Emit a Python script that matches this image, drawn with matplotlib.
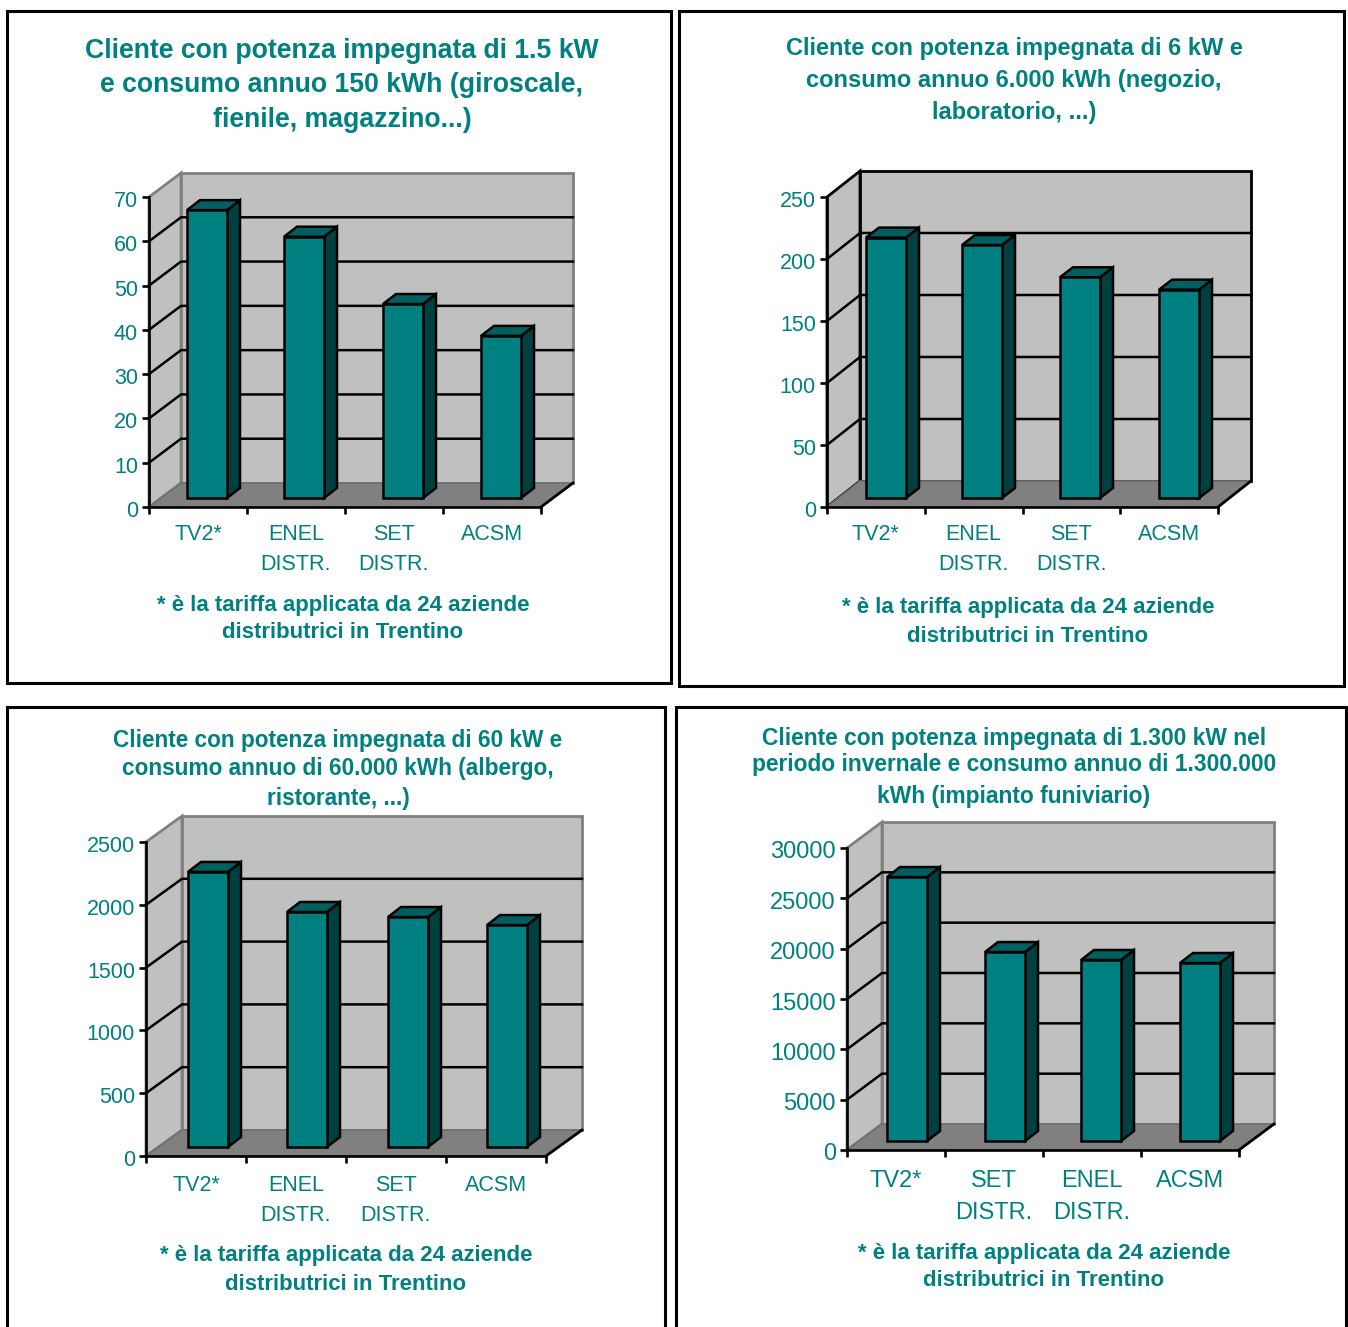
import matplotlib
matplotlib.use('Agg')
from matplotlib import pyplot as plt
from matplotlib.patches import Polygon, Rectangle
from matplotlib.transforms import ScaledTranslation

W, H = 1348, 1327
TEAL = '#008080'
plt.rcParams['font.family'] = ['Liberation Sans', 'DejaVu Sans']

# Values, one set per chart
cats_1 = ['TV2*', 'ENEL\nDISTR.', 'SET\nDISTR.', 'ACSM']
vals_1 = [65, 59, 43.8, 36.6]
ticks_1 = [0, 10, 20, 30, 40, 50, 60, 70]

cats_2 = ['TV2*', 'ENEL\nDISTR.', 'SET\nDISTR.', 'ACSM']
vals_2 = [210, 204, 178, 168]
ticks_2 = [0, 50, 100, 150, 200, 250]

cats_3 = ['TV2*', 'ENEL\nDISTR.', 'SET\nDISTR.', 'ACSM']
vals_3 = [2190, 1871, 1831, 1767]
ticks_3 = [0, 500, 1000, 1500, 2000, 2500]

cats_4 = ['TV2*', 'SET\nDISTR.', 'ENEL\nDISTR.', 'ACSM']
vals_4 = [26220, 18770, 17980, 17680]
ticks_4 = [0, 5000, 10000, 15000, 20000, 25000, 30000]

title_1 = ['Cliente con potenza impegnata di 1.5 kW',
           'e consumo annuo 150 kWh (giroscale,',
           'fienile, magazzino...)']
title_2 = ['Cliente con potenza impegnata di 6 kW e',
           'consumo annuo 6.000 kWh (negozio,',
           'laboratorio, ...)']
title_3 = ['Cliente con potenza impegnata di 60 kW e',
           'consumo annuo di 60.000 kWh (albergo,',
           'ristorante, ...)']
title_4 = ['Cliente con potenza impegnata di 1.300 kW nel',
           'periodo invernale e consumo annuo di 1.300.000',
           'kWh (impianto funiviario)']
note = ['* è la tariffa applicata da 24 aziende',
        'distributrici in Trentino']

fig = plt.figure(figsize=(W / 100, H / 100), dpi=100)


def text_px(x, y, s, size):
    fig.text(x / W, 1 - y / H, s, color=TEAL, fontsize=size, fontweight='bold',
             ha='center', va='center')


def frame(x0, y0, x1, y1):
    fig.add_artist(Rectangle((x0 / W, 1 - y1 / H), (x1 - x0) / W, (y1 - y0) / H,
                             transform=fig.transFigure, fill=False,
                             edgecolor='black', linewidth=2.2, clip_on=False))


def chart(box, depth, cats, vals, ticks, bar_lefts, wall_edge='#808080', size=15.5, pad=12, spacing=1.6):
    """One pseudo 3D bar chart. box is the front plane in pixels (x0, x1, ytop, ybottom)."""
    x0, x1, ytop, ybot = box
    ax = fig.add_axes([x0 / W, 1 - ybot / H, (x1 - x0) / W, (ybot - ytop) / H])
    ymax = ticks[-1]
    ax.set_xlim(0, 4)
    ax.set_ylim(0, ymax)
    ax.patch.set_visible(False)

    # pixel sizes turned into data units
    ux = 4 / (x1 - x0)
    uy = ymax / (ybot - ytop)
    dx, dy = depth[0] * ux, depth[1] * uy   # depth of the box
    bx, by = 13 * ux, 10 * uy               # depth of a bar
    sy = 9 * uy                             # how far bars sit behind the front plane
    bw = 40 * ux

    # walls and floor
    ax.add_patch(Polygon([(0, 0), (dx, dy), (dx, ymax + dy), (0, ymax)], fc='#c0c0c0',
                         ec=wall_edge, lw=2, clip_on=False, zorder=1))
    ax.add_patch(Polygon([(dx, dy), (4 + dx, dy), (4 + dx, ymax + dy), (dx, ymax + dy)], fc='#c0c0c0',
                         ec=wall_edge, lw=2, clip_on=False, zorder=1))
    ax.add_patch(Polygon([(0, 0), (4, 0), (4 + dx, dy), (dx, dy)], fc='#808080',
                         ec='#707070', lw=1.2, clip_on=False, zorder=1.5))

    # gridlines on the side and back wall
    for t in ticks[1:-1]:
        ax.plot([0, dx, 4 + dx], [t, t + dy, t + dy], color='black', lw=1.8,
                clip_on=False, zorder=2)
    ax.plot([4, 4 + dx], [0, dy], color='black', lw=2, clip_on=False, zorder=2)

    # bars: front through ax.bar, top and side as polygons
    lefts = [(p - x0) * ux for p in bar_lefts]
    ax.bar(lefts, vals, width=bw, bottom=sy, align='edge', color=TEAL, edgecolor='black',
           linewidth=1.8, clip_on=False, zorder=4)
    for left, v in zip(lefts, vals):
        top = v + sy
        ax.add_patch(Polygon([(left + bw, sy), (left + bw + bx, sy + by), (left + bw + bx, top + by), (left + bw, top)],
                             fc='#004040', ec='black', lw=1.8, clip_on=False, zorder=3))
        ax.add_patch(Polygon([(left, top), (left + bw, top), (left + bw + bx, top + by), (left + bx, top + by)],
                             fc='#006060', ec='black', lw=1.8, clip_on=False, zorder=3))

    for side in ['top', 'right']:
        ax.spines[side].set_visible(False)
    for side in ['left', 'bottom']:
        ax.spines[side].set_linewidth(1.9)
        ax.spines[side].set_zorder(5)

    ax.set_yticks(ticks)
    ax.set_xticks([0, 1, 2, 3, 4])
    ax.set_xticklabels([])
    ax.set_xticks([0.5, 1.5, 2.5, 3.5], labels=cats, minor=True)
    ax.tick_params(axis='y', length=5, width=1.9, pad=3, labelsize=size, labelcolor=TEAL)
    ax.tick_params(axis='x', which='major', length=5, width=1.9)
    ax.tick_params(axis='x', which='minor', length=0, pad=pad, labelsize=size, labelcolor=TEAL)
    for lab in ax.get_xticklabels(minor=True):
        lab.set_linespacing(spacing)
    # value labels sit a little below their ticks in the original
    shift = ScaledTranslation(0, -2 / 100, fig.dpi_scale_trans)
    for lab in ax.get_yticklabels():
        lab.set_transform(lab.get_transform() + shift)


frame(7, 11, 671, 683)
frame(679, 11, 1344, 686)
frame(7, 707, 665, 1340)
frame(676, 707, 1346, 1340)

chart((149, 541, 197, 507), (32, 24), cats_1, vals_1, ticks_1, [187, 284, 383, 481])
chart((827, 1218, 197, 507), (33, 26), cats_2, vals_2, ticks_2, [866, 962, 1060, 1159], wall_edge='black')
chart((146, 546, 842, 1156), (36, 26), cats_3, vals_3, ticks_3, [188, 287, 388, 487], pad=13.5)
chart((847, 1239, 848, 1150), (35, 26), cats_4, vals_4, ticks_4, [887, 985, 1081, 1180], size=17, pad=14.5)

for y, s in zip([51, 85, 120], title_1):
    text_px(342, y, s, 19.2)
for y, s in zip([49, 81, 113], title_2):
    text_px(1014, y, s, 17)
for y, s in zip([740, 769, 798], title_3):
    text_px(338, y, s, 16.3)
for y, s in zip([738, 765, 797], title_4):
    text_px(1014, y, s, 16.4)

for cx, ys, size in [(343, [605, 633], 16), (1028, [607, 636], 16),
                     (346, [1256, 1284], 16), (1044, [1253, 1281], 16)]:
    for y, s in zip(ys, note):
        text_px(cx, y, s, size)

fig.savefig('out.png', dpi=100, facecolor='white')
